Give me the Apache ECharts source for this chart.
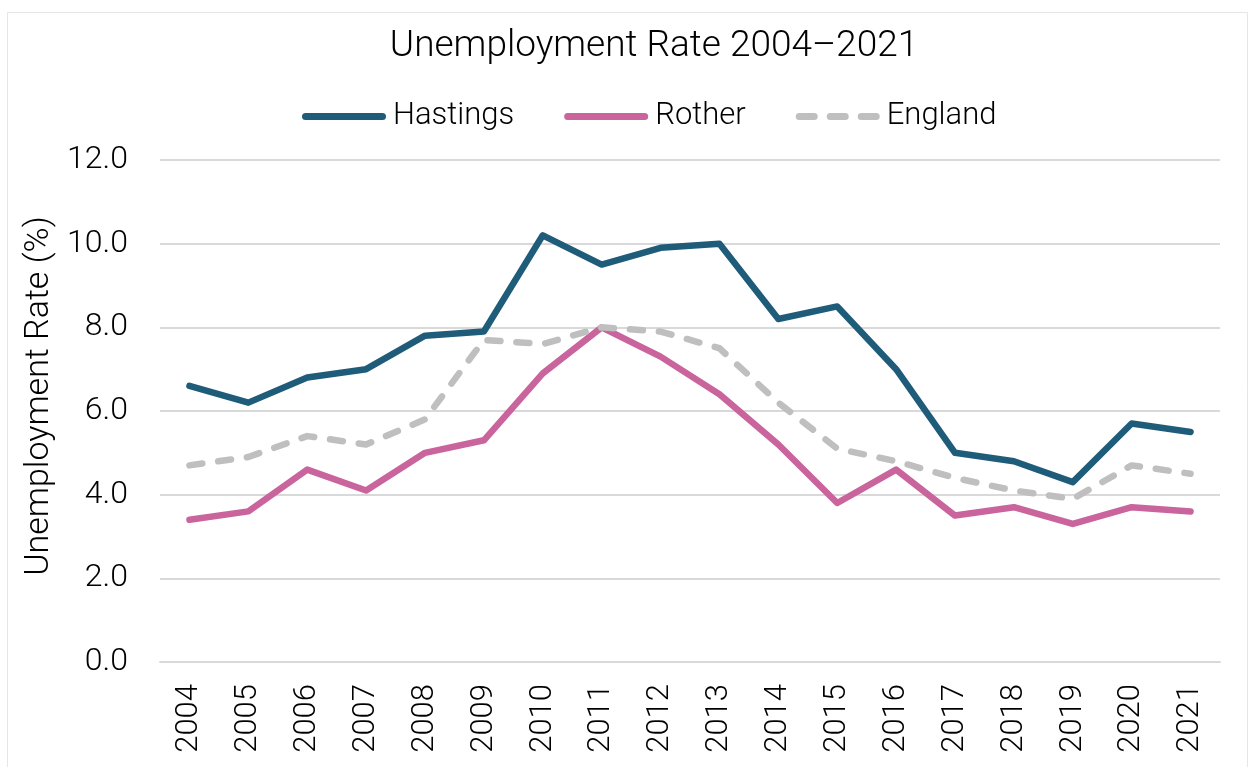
<!DOCTYPE html>
<html><head><meta charset="utf-8">
<script src="https://cdn.jsdelivr.net/npm/echarts@6/dist/echarts.min.js"></script>
<style>html,body{margin:0;padding:0;background:#fff}#c{width:1250px;height:767px}</style>
</head><body><div id="c"></div>
<script>
const years = ['2004','2005','2006','2007','2008','2009','2010','2011','2012','2013','2014','2015','2016','2017','2018','2019','2020','2021'];
const hastings = [6.6,6.2,6.8,7.0,7.8,7.9,10.2,9.5,9.9,10.0,8.2,8.5,7.0,5.0,4.8,4.3,5.7,5.5];
const rother = [3.4,3.6,4.6,4.1,5.0,5.3,6.9,8.0,7.3,6.4,5.2,3.8,4.6,3.5,3.7,3.3,3.7,3.6];
const england = [4.7,4.9,5.4,5.2,5.8,7.7,7.6,8.0,7.9,7.5,6.2,5.1,4.8,4.4,4.1,3.9,4.7,4.5];

const font = 'Roboto';
const capsule = 'path://M3.5,0h77a3.5,3.5 0 0 1 0,7h-77a3.5,3.5 0 0 1 0,-7z';
const dashes = 'path://M3.5,0h15a3.5,3.5 0 0 1 0,7h-15a3.5,3.5 0 0 1 0,-7z M34.5,0h15a3.5,3.5 0 0 1 0,7h-15a3.5,3.5 0 0 1 0,-7z M65.5,0h15a3.5,3.5 0 0 1 0,7h-15a3.5,3.5 0 0 1 0,-7z';
const chart = echarts.init(document.getElementById('c'), null, {renderer:'canvas'});
chart.setOption({
  animation:false,
  backgroundColor:'#fff',
  graphic:[{type:'rect',shape:{x:7.5,y:12.5,width:1240,height:760},style:{fill:'none',stroke:'#e6e6e6',lineWidth:1},silent:true}],
  title:{text:'Unemployment Rate 2004\u20132021',left:649,textAlign:'center',top:23,textStyle:{fontFamily:font,fontWeight:300,fontSize:37,color:'#000'}},
  legend:{top:96,left:297,itemWidth:86,itemHeight:7,itemGap:50,
    textStyle:{fontFamily:font,fontWeight:300,fontSize:31,color:'#000',padding:[0,0,0,1]},
    data:[{name:'Hastings',icon:capsule},{name:'Rother',icon:capsule},{name:'England',icon:dashes}]},
  grid:{left:160,right:30,top:160,bottom:105},
  xAxis:{type:'category',data:years,boundaryGap:true,
    axisLine:{show:true,lineStyle:{color:'#d9d9d9',width:2}},axisTick:{show:false},
    axisLabel:{rotate:90,fontFamily:font,fontWeight:300,fontSize:31,color:'#000',margin:22}},
  yAxis:{type:'value',min:0,max:12,interval:2,
    name:'Unemployment Rate (%)',nameLocation:'middle',nameGap:104,nameRotate:90,
    nameTextStyle:{fontFamily:font,fontWeight:300,fontSize:34,color:'#000',padding:[0,0,0,30]},
    axisLabel:{formatter:v=>v.toFixed(1),fontFamily:font,fontWeight:300,fontSize:32,color:'#000',margin:32},
    splitLine:{lineStyle:{color:'#d9d9d9',width:2}},axisLine:{show:false},axisTick:{show:false}},
  series:[
    {name:'Hastings',type:'line',data:hastings,symbol:'none',lineStyle:{color:'#1f5c7a',width:6.5,cap:'round',join:'round'},itemStyle:{color:'#1f5c7a'}},
    {name:'Rother',type:'line',data:rother,symbol:'none',lineStyle:{color:'#c9649d',width:6.5,cap:'round',join:'round'},itemStyle:{color:'#c9649d'}},
    {name:'England',type:'line',data:england,symbol:'none',lineStyle:{color:'#bfbfbf',width:6.5,type:[13,16],cap:'round',join:'round'},itemStyle:{color:'#bfbfbf'}}
  ]
});
</script></body></html>
